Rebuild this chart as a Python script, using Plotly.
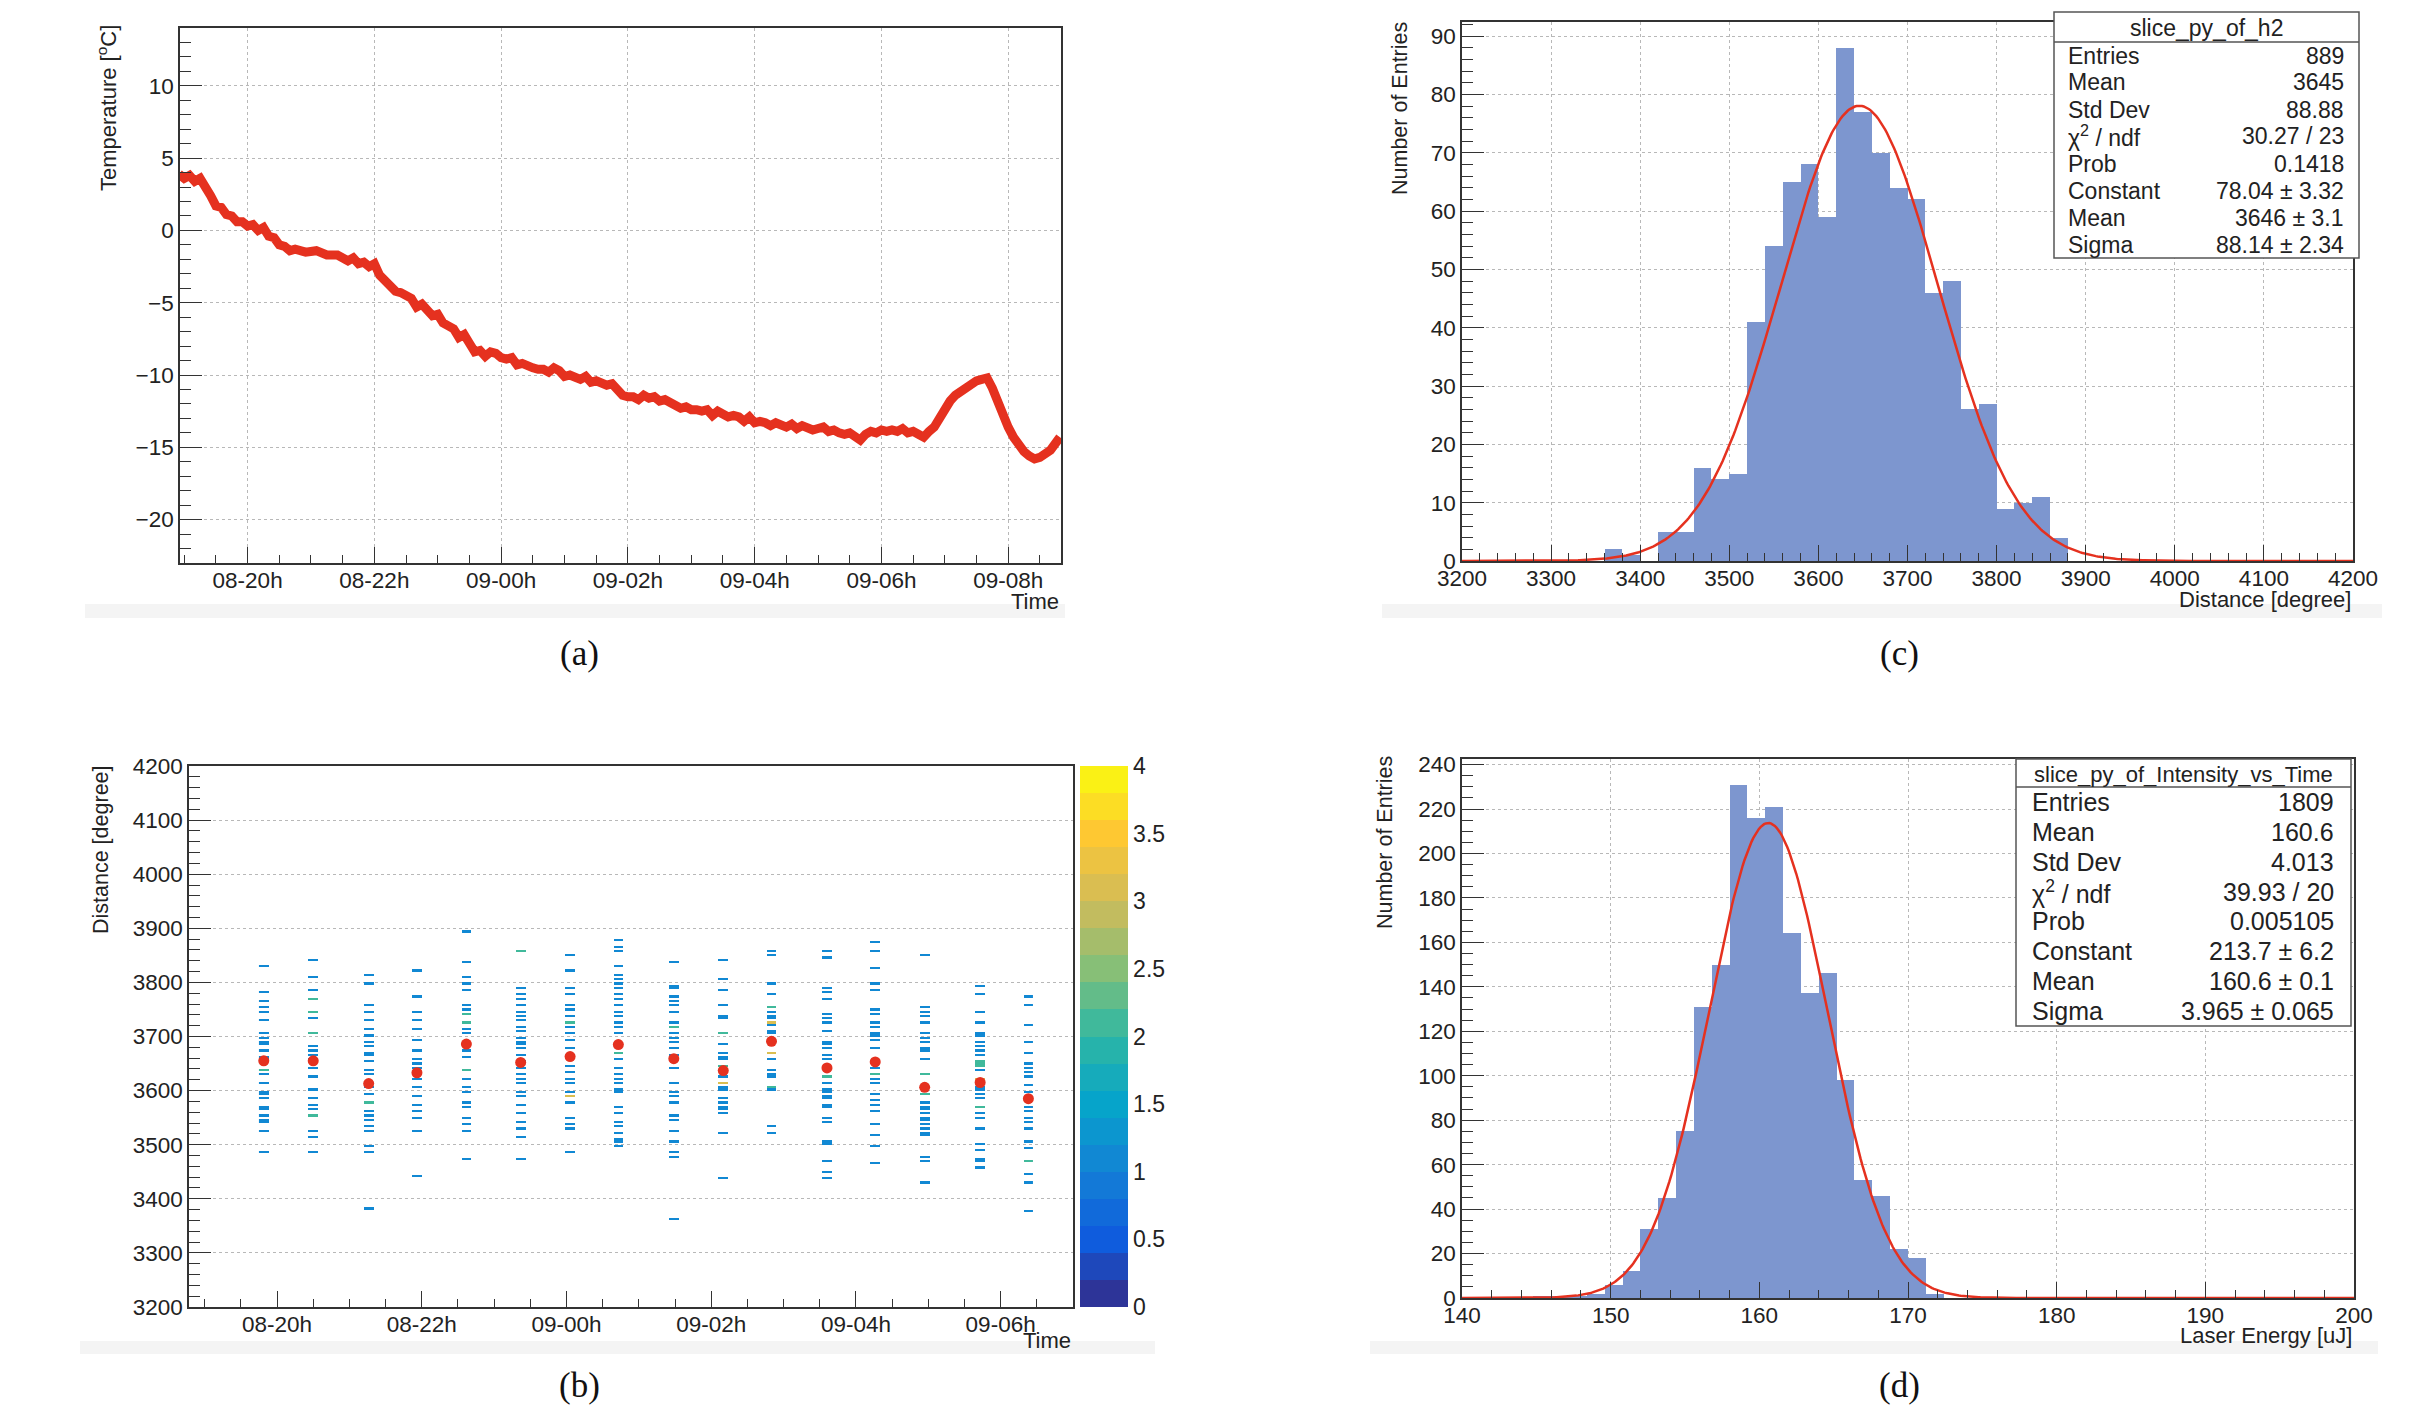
import numpy as np
import pandas as pd
import plotly.graph_objects as go

# The page body keeps an 8px margin, so the figure is sized to the remaining viewport
OFF = 8
FW, FH = 2421 - OFF, 1406 - OFF
SANS = "Liberation Sans, Arial, sans-serif"
SERIF = "Liberation Serif, Times New Roman, serif"

# ---------------- (a) temperature vs time ----------------
temp_hhmm = ["18:55","19:00","19:05","19:10","19:15","19:20","19:25","19:30","19:35","19:40","19:45","19:50","19:55",
             "20:00","20:05","20:10","20:15","20:20","20:25","20:30","20:35","20:40","20:45","20:55","21:05","21:15",
             "21:25","21:35","21:40","21:45","21:50","21:55","22:00","22:05","22:10","22:15","22:20","22:25","22:30",
             "22:35","22:40","22:45","22:50","22:55","23:00","23:05","23:10","23:15","23:20","23:25","23:30","23:35",
             "23:40","23:45","23:50","23:55","00:00","00:05","00:10","00:15","00:20","00:25","00:30","00:35","00:40",
             "00:45","00:50","00:55","01:00","01:05","01:10","01:15","01:20","01:25","01:30","01:35","01:40","01:45",
             "01:50","01:55","02:00","02:05","02:10","02:15","02:20","02:25","02:30","02:35","02:40","02:45","02:50",
             "02:55","03:00","03:05","03:10","03:15","03:20","03:25","03:30","03:35","03:40","03:45","03:50","03:55",
             "04:00","04:05","04:10","04:15","04:20","04:25","04:30","04:35","04:40","04:45","04:50","04:55","05:00",
             "05:05","05:10","05:15","05:20","05:25","05:30","05:35","05:40","05:45","05:50","05:55","06:00","06:05",
             "06:10","06:15","06:20","06:25","06:30","06:35","06:40","06:45","06:50","06:55","07:00","07:05","07:10",
             "07:15","07:20","07:25","07:30","07:35","07:40","07:45","07:50","07:55","08:00","08:05","08:10","08:15",
             "08:20","08:25","08:30","08:35","08:40","08:45","08:49"]
temp_value = [3.9,3.6,3.8,3.4,3.6,3.1,2.4,1.7,1.6,1.1,1.0,0.6,0.6,
              0.3,0.4,0.0,0.2,-0.4,-0.5,-1.0,-1.1,-1.4,-1.3,-1.5,-1.4,-1.7,
              -1.7,-2.1,-1.9,-2.3,-2.2,-2.5,-2.3,-3.1,-3.5,-3.7,-4.2,-4.3,-4.6,
              -4.7,-5.3,-5.1,-5.5,-5.9,-5.8,-6.4,-6.6,-6.8,-7.4,-7.2,-7.8,-8.4,
              -8.3,-8.7,-8.4,-8.5,-8.8,-8.9,-8.8,-9.3,-9.2,-9.4,-9.5,-9.6,-9.6,
              -9.8,-9.5,-9.7,-10.1,-10.0,-10.2,-10.3,-10.1,-10.5,-10.4,-10.5,-10.7,-10.6,
              -11.1,-11.4,-11.5,-11.5,-11.7,-11.4,-11.6,-11.5,-11.8,-11.7,-11.9,-12.1,-12.3,
              -12.2,-12.4,-12.4,-12.5,-12.4,-12.8,-12.5,-12.7,-12.9,-12.8,-12.9,-13.2,-12.9,
              -13.3,-13.2,-13.3,-13.5,-13.3,-13.4,-13.6,-13.4,-13.7,-13.5,-13.6,-13.8,-13.7,
              -13.6,-13.9,-13.8,-14.0,-14.1,-14.0,-14.3,-14.5,-14.1,-13.9,-14.0,-13.8,-13.9,
              -13.8,-13.9,-13.7,-14.0,-13.9,-14.1,-14.3,-13.9,-13.6,-13.0,-12.3,-11.8,-11.4,
              -11.1,-10.8,-10.7,-10.4,-10.3,-10.2,-10.9,-11.9,-12.8,-13.6,-14.3,-14.9,-15.3,
              -15.6,-15.8,-15.7,-15.5,-15.2,-14.7,-14.3]

# ---------------- (c) distance slice histogram ----------------
dist_bin_low = 3200
dist_bin_width = 20
dist_counts = [0,0,0,0,0,0,0,0,2,1,0,5,5,16,14,15,41,54,65,68,59,88,77,70,64,62,46,48,26,27,
               9,10,11,4,0,0,0,0,0,0,0,0,0,0,0,0,0,0,0,0]
dist_fit = dict(constant=78.04, mean=3646.0, sigma=88.14)
dist_stats_title = "slice_py_of_h2"
dist_stats_labels = ["Entries","Mean","Std Dev","χ<sup>2</sup> / ndf","Prob","Constant","Mean","Sigma"]
dist_stats_values = ["889","3645","88.88","30.27 / 23","0.1418","78.04 ± 3.32","3646 ± 3.1","88.14 ± 2.34"]

# ---------------- (d) laser energy slice histogram ----------------
energy_bin_low = 140.0
energy_bin_width = 1.2
energy_counts = [0,0,0,0,1,1,1,2,6,12,31,45,75,131,150,231,216,221,164,137,146,98,53,46,22,18,2,
                 0,0,0,0,0,0,0,0,0,0,0,0,0,0,0,0,0,0,0,0,0,0,0]
energy_fit = dict(constant=213.7, mean=160.6, sigma=3.965)
energy_stats_title = "slice_py_of_Intensity_vs_Time"
energy_stats_labels = ["Entries","Mean","Std Dev","χ<sup>2</sup> / ndf","Prob","Constant","Mean","Sigma"]
energy_stats_values = ["1809","160.6","4.013","39.93 / 20","0.005105","213.7 ± 6.2","160.6 ± 0.1","3.965 ± 0.065"]

# ---------------- (b) distance vs time 2D histogram ----------------
col_hhmm = ["19:49","20:30","21:16","21:56","22:37","23:22","00:03","00:43",
            "01:29","02:10","02:50","03:36","04:16","04:57","05:43","06:23"]
profile_mean = [3655,3655,3613,3633,3686,3652,3663,3685,3659,3637,3691,3642,3653,3606,3615,3585]
dash_distance = [
    [3831,3782,3766,3752,3745,3729,3704,3698,3689,3684,3674,3661,3658,3652,3639,3639,3629,3614,3598,3595,3584,3571,3564,3552,3545,3541,3526,3487],
    [3843,3811,3784,3770,3770,3747,3747,3735,3707,3707,3682,3674,3667,3659,3642,3627,3600,3584,3575,3566,3554,3554,3526,3514,3487],
    [3815,3797,3756,3747,3731,3714,3700,3689,3682,3671,3664,3654,3636,3629,3614,3604,3594,3579,3579,3562,3554,3544,3532,3527,3498,3487,3382],
    [3820,3775,3744,3729,3712,3695,3675,3657,3650,3642,3632,3632,3620,3606,3589,3573,3562,3548,3525,3442],
    [3892,3837,3809,3798,3787,3756,3748,3740,3740,3725,3725,3714,3704,3686,3673,3661,3639,3639,3621,3607,3598,3576,3568,3548,3539,3525,3475],
    [3859,3859,3788,3778,3769,3759,3747,3737,3731,3719,3709,3698,3688,3684,3676,3667,3652,3642,3631,3623,3614,3598,3589,3574,3558,3542,3528,3514,3475],
    [3851,3822,3788,3779,3759,3748,3739,3725,3725,3717,3707,3694,3679,3662,3645,3632,3621,3614,3598,3590,3590,3590,3577,3548,3537,3531,3486],
    [3876,3864,3856,3829,3812,3804,3796,3788,3779,3768,3756,3744,3737,3726,3717,3707,3686,3671,3671,3656,3640,3629,3620,3612,3600,3596,3571,3556,3542,3532,3523,3511,3504,3498],
    [3837,3795,3788,3775,3764,3756,3744,3726,3719,3719,3704,3696,3688,3676,3667,3659,3640,3615,3598,3590,3579,3552,3545,3526,3506,3486,3479,3361],
    [3840,3806,3786,3759,3739,3734,3707,3707,3684,3669,3662,3657,3645,3645,3637,3626,3614,3614,3614,3604,3600,3586,3577,3570,3565,3557,3521,3436],
    [3857,3848,3798,3777,3754,3754,3745,3739,3732,3726,3726,3726,3720,3711,3704,3690,3670,3670,3670,3659,3636,3629,3625,3604,3604,3600,3534,3520],
    [3857,3844,3788,3781,3770,3742,3732,3727,3709,3690,3684,3676,3667,3657,3642,3627,3627,3614,3601,3596,3590,3586,3573,3569,3551,3542,3507,3500,3471,3450,3436],
    [3875,3857,3825,3798,3784,3748,3740,3725,3719,3707,3700,3694,3677,3652,3642,3629,3629,3621,3614,3592,3582,3575,3562,3537,3517,3498,3465],
    [3851,3754,3746,3739,3724,3704,3698,3690,3679,3673,3657,3631,3631,3606,3592,3592,3577,3571,3565,3559,3551,3545,3537,3529,3523,3517,3476,3469,3429],
    [3792,3779,3746,3727,3704,3700,3690,3682,3675,3664,3654,3654,3650,3650,3644,3644,3636,3623,3623,3623,3615,3607,3600,3594,3587,3569,3569,3556,3550,3531,3500,3490,3475,3469,3457],
    [3775,3759,3721,3690,3671,3648,3642,3632,3625,3611,3596,3584,3569,3562,3548,3542,3531,3507,3492,3470,3470,3446,3431,3379],
]
colorbar_ticks = [0, 0.5, 1, 1.5, 2, 2.5, 3, 3.5, 4]


def stamp(hhmm):
    h = int(hhmm[:2])
    day = "08" if h >= 12 else "09"
    return pd.Timestamp(f"2021-03-{day} {hhmm}")


def px(x):
    return (x - OFF) / FW


def py(y):
    return 1 - (y - OFF) / FH


# ROOT kBird palette, stepped into 20 contour bands
bird_pos = [0, .125, .25, .375, .5, .625, .75, .875, 1]
bird_r = [0.2082, 0.0592, 0.0780, 0.0232, 0.1802, 0.5301, 0.8186, 0.9956, 0.9764]
bird_g = [0.1664, 0.3599, 0.5041, 0.6419, 0.7178, 0.7492, 0.7328, 0.7862, 0.9832]
bird_b = [0.5293, 0.8684, 0.8385, 0.7914, 0.6425, 0.4662, 0.3499, 0.1968, 0.0539]
nb = 20
cscale = []
for i in range(nb):
    t = (i + 0.5) / nb
    c = "rgb(%d,%d,%d)" % tuple(int(round(255 * np.interp(t, bird_pos, ch))) for ch in (bird_r, bird_g, bird_b))
    cscale.append([i / nb, c])
    cscale.append([(i + 1) / nb, c])

fig = go.Figure()

RED = "#e5311f"
BARC = "#7d96cf"

# (a)
fig.add_trace(go.Scatter(x=[stamp(t) for t in temp_hhmm], y=temp_value, mode="lines",
                         line=dict(color=RED, width=9), xaxis="x", yaxis="y", showlegend=False))

# (c)
dist_centers = [dist_bin_low + dist_bin_width * (i + 0.5) for i in range(len(dist_counts))]
fig.add_trace(go.Bar(x=dist_centers, y=dist_counts, width=dist_bin_width, marker=dict(color=BARC, line=dict(width=0)),
                     xaxis="x2", yaxis="y2", showlegend=False))
xg = np.linspace(3200, 4200, 500)
fig.add_trace(go.Scatter(x=xg, y=dist_fit["constant"] * np.exp(-0.5 * ((xg - dist_fit["mean"]) / dist_fit["sigma"]) ** 2),
                         mode="lines", line=dict(color=RED, width=2.5), xaxis="x2", yaxis="y2", showlegend=False))

# (d)
en_centers = [energy_bin_low + energy_bin_width * (i + 0.5) for i in range(len(energy_counts))]
fig.add_trace(go.Bar(x=en_centers, y=energy_counts, width=energy_bin_width, marker=dict(color=BARC, line=dict(width=0)),
                     xaxis="x4", yaxis="y4", showlegend=False))
eg = np.linspace(140, 200, 500)
fig.add_trace(go.Scatter(x=eg, y=energy_fit["constant"] * np.exp(-0.5 * ((eg - energy_fit["mean"]) / energy_fit["sigma"]) ** 2),
                         mode="lines", line=dict(color=RED, width=2.5), xaxis="x4", yaxis="y4", showlegend=False))

# (b) 2D histogram
y_edges = np.arange(3200, 4200 + 4, 4)
half = pd.Timedelta(minutes=4)
col_times = [stamp(t) for t in col_hhmm]
x_edges = []
z_cols = []
for i, (t, vals) in enumerate(zip(col_times, dash_distance)):
    counts, _ = np.histogram(vals, bins=y_edges)
    x_edges += [t - half, t + half]
    z_cols.append([None if c == 0 else int(c) for c in counts])
    if i < len(col_times) - 1:
        z_cols.append([None] * len(counts))
z = [list(row) for row in zip(*z_cols)]
fig.add_trace(go.Heatmap(x=x_edges, y=y_edges, z=z, zmin=0, zmax=4, colorscale=cscale,
                         xaxis="x3", yaxis="y3", showscale=True, hoverongaps=False,
                         colorbar=dict(x=px(1080), xanchor="left", y=py(1307), yanchor="bottom",
                                       len=(1307 - 766) / FH, lenmode="fraction", thickness=48,
                                       thicknessmode="pixels", outlinewidth=0, xpad=0, ypad=0,
                                       tickvals=colorbar_ticks, ticktext=[("%g" % v) for v in colorbar_ticks],
                                       ticks="", tickfont=dict(family=SANS, size=23, color="#222"))))
fig.add_trace(go.Scatter(x=col_times, y=profile_mean, mode="markers",
                         marker=dict(color=RED, size=11, line=dict(width=0)),
                         xaxis="x3", yaxis="y3", showlegend=False))


def axis(domain, anchor, **kw):
    d = dict(domain=domain, anchor=anchor, automargin=False, showline=True, linecolor="#333", linewidth=1.5,
             mirror=True, ticks="inside", ticklen=16, tickcolor="#333", tickwidth=1.3,
             showgrid=True, gridcolor="#b8b8b8", griddash="dot", gridwidth=1, zeroline=False,
             tickfont=dict(family=SANS, size=22.5, color="#222"))
    d.update(kw)
    return d


def minor(dt, ln=8):
    return dict(ticks="inside", ticklen=ln, tickcolor="#333", tickwidth=1.2, dtick=dt, showgrid=False)


HOUR = 3600000
XSO = -4
fig.update_layout(
    width=FW, height=FH, margin=dict(l=0, r=0, t=0, b=0, autoexpand=False),
    paper_bgcolor="white", plot_bgcolor="white", showlegend=False, bargap=0,
    xaxis=axis([px(180), px(1061)], "y", type="date", range=["2021-03-08 18:56", "2021-03-09 08:50"],
               tick0="2021-03-08 20:00", dtick=2 * HOUR, tickformat="%d-%Hh", minor=minor(HOUR / 2),
               ticklabelstandoff=XSO),
    yaxis=axis([py(563), py(28)], "x", range=[-23, 14], tick0=0, dtick=5, minor=minor(1, 11), ticklen=22),
    xaxis2=axis([px(1462), px(2353)], "y2", range=[3200, 4200], dtick=100, minor=minor(20), ticklabelstandoff=XSO),
    yaxis2=axis([py(561), py(22)], "x2", range=[0, 92.4], dtick=10, minor=minor(2, 11), ticklen=22),
    xaxis3=axis([px(189), px(1073)], "y3", type="date", range=["2021-03-08 18:47", "2021-03-09 07:00"],
                tick0="2021-03-08 20:00", dtick=2 * HOUR, tickformat="%d-%Hh", minor=minor(HOUR / 2),
                showgrid=False, ticklabelstandoff=XSO),
    yaxis3=axis([py(1307), py(766)], "x3", range=[3200, 4200], dtick=100, minor=minor(20, 11), ticklen=22),
    xaxis4=axis([px(1462), px(2354)], "y4", range=[140, 200], dtick=10, minor=minor(2), ticklabelstandoff=XSO),
    yaxis4=axis([py(1298), py(759)], "x4", range=[0, 242.5], dtick=20, minor=minor(5, 11), ticklen=22),
)

shapes = []
annotations = []


def txt(x, y, s, size=21, xanchor="left", family=SANS, angle=0, color="#222"):
    annotations.append(dict(x=px(x), y=py(y), xref="paper", yref="paper", text=s, showarrow=False,
                            xanchor=xanchor, yanchor="middle", textangle=angle,
                            font=dict(family=family, size=size, color=color)))


# faint canvas bands under panels
for x0, x1, y0, y1 in [(85, 1065, 604, 618), (1382, 2382, 604, 618), (80, 1155, 1341, 1354), (1370, 2378, 1341, 1354)]:
    shapes.append(dict(type="rect", xref="paper", yref="paper", x0=px(x0), x1=px(x1), y0=py(y1), y1=py(y0),
                       fillcolor="#f4f4f4", line=dict(width=0), layer="below"))

# colorbar tick marks drawn inside the bar (right side)
for v in colorbar_ticks[1:-1]:
    yv = 1307 - v / 4 * (1307 - 766)
    shapes.append(dict(type="line", xref="paper", yref="paper", x0=px(1102), x1=px(1128), y0=py(yv), y1=py(yv),
                       line=dict(color="#333", width=1.5), layer="above"))


# stats boxes
def stats_box(x0, x1, y0, ydiv, y1, title, labels, values, size, tsize, lx, rx):
    shapes.append(dict(type="rect", xref="paper", yref="paper", x0=px(x0), x1=px(x1), y0=py(y1), y1=py(y0),
                       fillcolor="white", line=dict(color="#555", width=1.5), layer="above"))
    shapes.append(dict(type="line", xref="paper", yref="paper", x0=px(x0), x1=px(x1), y0=py(ydiv), y1=py(ydiv),
                       line=dict(color="#555", width=1.5), layer="above"))
    txt((x0 + x1) / 2, (y0 + ydiv) / 2 + 1, title, size=tsize, xanchor="center")
    step = (y1 - ydiv) / len(labels)
    for i, (lab, val) in enumerate(zip(labels, values)):
        yc = ydiv + step * (i + 0.5)
        txt(lx, yc, lab, size=size, xanchor="left")
        txt(rx, yc, val, size=size, xanchor="right")


stats_box(2054, 2359, 12, 42, 258, dist_stats_title, dist_stats_labels, dist_stats_values, 23, 23, 2066, 2346)
stats_box(2016, 2351, 759, 787, 1026, energy_stats_title, energy_stats_labels, energy_stats_values, 25, 22, 2030, 2336)

# axis titles
txt(107, 108, "Temperature [<sup>o</sup>C]", size=22, xanchor="center", angle=-90)
txt(1400, 108, "Number of Entries", size=21.5, xanchor="center", angle=-90)
txt(101, 850, "Distance [degree]", size=21.5, xanchor="center", angle=-90)
txt(1385, 843, "Number of Entries", size=21.5, xanchor="center", angle=-90)
txt(1061, 602, "Time", size=22, xanchor="right")
txt(2353, 599, "Distance [degree]", size=22, xanchor="right")
txt(1073, 1340, "Time", size=22, xanchor="right")
txt(2354, 1335, "Laser Energy [uJ]", size=22, xanchor="right")

# panel labels
for x, y, s in [(579, 653, "(a)"), (1899, 653, "(c)"), (579, 1385, "(b)"), (1899, 1385, "(d)")]:
    txt(x, y, s, size=35, xanchor="center", family=SERIF, color="#111")

fig.update_layout(shapes=shapes, annotations=annotations)
fig.write_html("out.html")
